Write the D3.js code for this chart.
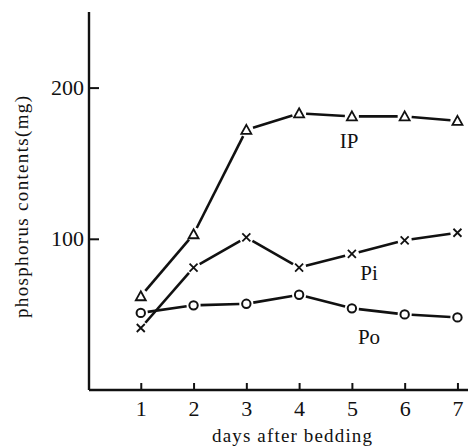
<!DOCTYPE html>
<html><head><meta charset="utf-8">
<script src="https://cdn.jsdelivr.net/npm/d3@7"></script>
<style>body{margin:0;background:#fff}svg{display:block}</style>
</head><body>
<svg id="c" width="468" height="446"></svg>
<script>
const days = [1, 2, 3, 4, 5, 6, 7];
const ipValues = [62, 103, 172, 183, 181, 181, 178];
const piValues = [41, 81, 101, 81, 90, 99, 104];
const poValues = [51, 56, 57, 63, 54, 50, 48];
const yTicks = [100, 200];
const seriesLabels = ["IP", "Pi", "Po"];

const svg = d3.select("#c");
const x = d3.scaleLinear().domain([0, 7.2]).range([88, 468]);
const y = d3.scaleLinear().domain([0, 250]).range([390, 12]);
const font = "'Liberation Serif', 'DejaVu Serif', serif";

// axes
const xAxis = d3.axisBottom(x).tickValues(days).tickSize(-7).tickPadding(10).tickFormat(d3.format("d"));
const gx = svg.append("g").attr("transform", `translate(0,${y(0)})`).call(xAxis);
const yAxis = d3.axisLeft(y).tickValues(yTicks).tickSize(-10).tickPadding(5);
const gy = svg.append("g").attr("transform", `translate(${x(0)+1},0)`).call(yAxis);
[gx, gy].forEach(g => {
  g.attr("font-family", null).attr("font-size", null);
  g.select(".domain").attr("stroke", "#111").attr("stroke-width", 2.4);
  g.selectAll(".tick line").attr("stroke", "#111").attr("stroke-width", 2);
  g.selectAll(".tick text").style("font-family", font).style("font-size", "22px").attr("fill", "#111");
});
gx.select(".domain").attr("d", `M${x(0)+1},0H${x(7.2)}`);
gy.select(".domain").attr("d", `M0,${y(0)}V${y(250)}`);
gx.selectAll(".tick text").attr("dy", "0.71em");

// titles
svg.append("text").attr("x", 292).attr("y", 442).attr("text-anchor", "middle")
  .style("font-family", font).style("font-size", "19px").attr("fill", "#111")
  .attr("textLength", 160).attr("lengthAdjust", "spacing").text("days after bedding");
svg.append("text").attr("transform", "translate(28,207) rotate(-90)").attr("text-anchor", "middle")
  .style("font-family", font).style("font-size", "19px").attr("fill", "#111")
  .attr("textLength", 222).attr("lengthAdjust", "spacing").text("phosphorus contents(mg)");

// series
const series = [
  {name: seriesLabels[0], vals: ipValues, marker: "tri", lx: 349, ly: 148},
  {name: seriesLabels[1], vals: piValues, marker: "x", lx: 369, ly: 280},
  {name: seriesLabels[2], vals: poValues, marker: "circ", lx: 369, ly: 344}
];
const gap = 7;
series.forEach(s => {
  const pts = days.map((d, i) => [x(d), y(s.vals[i])]);
  const g = svg.append("g");
  for (let i = 0; i < pts.length - 1; i++) {
    const [x1, y1] = pts[i], [x2, y2] = pts[i+1];
    const len = Math.hypot(x2 - x1, y2 - y1);
    const ux = (x2 - x1) / len, uy = (y2 - y1) / len;
    g.append("line")
      .attr("x1", x1 + ux*gap).attr("y1", y1 + uy*gap)
      .attr("x2", x2 - ux*gap).attr("y2", y2 - uy*gap)
      .attr("stroke", "#111").attr("stroke-width", 2.6);
  }
  pts.forEach(([px, py]) => {
    if (s.marker === "tri") {
      g.append("path").attr("d", `M${px},${py-5}L${px+5},${py+4}L${px-5},${py+4}Z`)
        .attr("fill", "none").attr("stroke", "#111").attr("stroke-width", 1.8);
    } else if (s.marker === "circ") {
      g.append("circle").attr("cx", px).attr("cy", py).attr("r", 4.2)
        .attr("fill", "none").attr("stroke", "#111").attr("stroke-width", 2);
    } else {
      g.append("path").attr("d", `M${px-4},${py-4}L${px+4},${py+4}M${px+4},${py-4}L${px-4},${py+4}`)
        .attr("stroke", "#111").attr("stroke-width", 1.8);
    }
  });
  svg.append("text").attr("x", s.lx).attr("y", s.ly).attr("text-anchor", "middle")
    .style("font-family", font).style("font-size", "21px").attr("fill", "#111").text(s.name);
});
</script>
</body></html>
